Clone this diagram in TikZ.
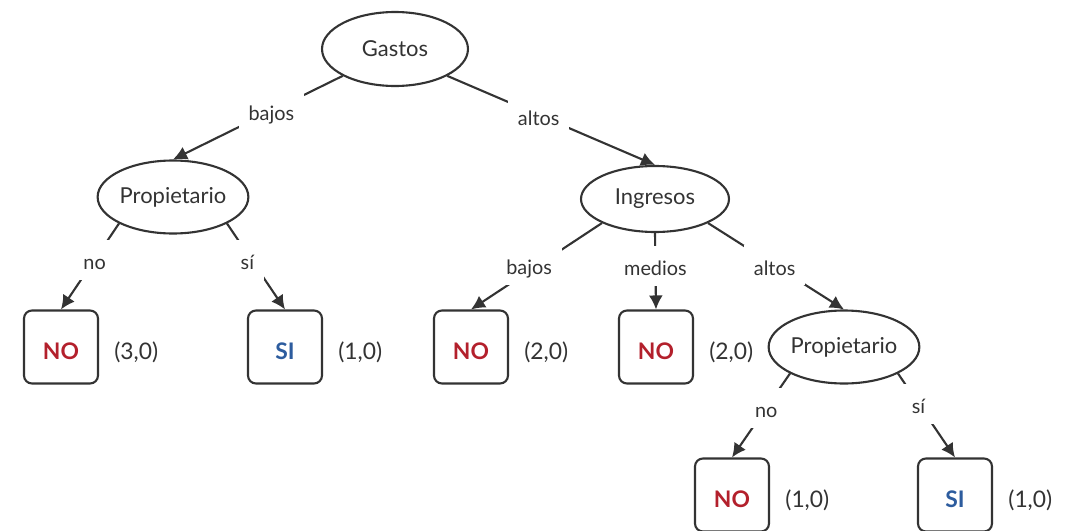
\documentclass[tikz,border=0pt]{standalone}
\usepackage{fontspec}
\setmainfont{Lato}
\usepackage{xcolor}
\usetikzlibrary{arrows.meta,positioning,shapes.geometric}
\definecolor{ink}{HTML}{333333}
\definecolor{nored}{HTML}{B3202C}
\definecolor{siblue}{HTML}{2D5C9E}

\begin{document}
\begin{tikzpicture}[x=0.02cm, y=-0.02cm,
  test/.style={ellipse, draw=ink, line width=1.2pt, inner sep=0pt,
    minimum width=3.0cm, minimum height=1.46cm,
    font=\fontsize{12.5}{15}\selectfont, text=ink},
  leaf/.style={draw=ink, line width=1.2pt, rounded corners=4.5pt,
    minimum width=1.48cm, minimum height=1.46cm,
    text height=0.5cm, text depth=0pt,
    font=\fontsize{13}{15}\selectfont\bfseries},
  branch/.style={line width=1.2pt, draw=ink, -{Latex[length=0.28cm, width=0.28cm]}},
  choice/.style={fill=white, inner xsep=0.2cm, inner ysep=0.05cm,
    text height=0.55cm, text depth=0.15cm,
    font=\fontsize{11.3}{13}\selectfont, text=ink},
  count/.style={inner sep=0pt, yshift=-0.1cm,
    font=\fontsize{13}{15}\selectfont, text=ink}
]
\useasboundingbox (0,0) rectangle (1076,531);
\node[test, minimum width=2.92cm, minimum height=1.48cm] (gastos) at (395,49) {Gastos};
\node[test] (prop1) at (173,197) {Propietario};
\node[test, minimum width=2.96cm, minimum height=1.32cm] (ingresos) at (655,199) {Ingresos};
\node[leaf, text=nored] (no1) at (61,347) {NO};
\node[leaf, text=siblue] (si1) at (285,347) {SI};
\node[leaf, text=nored] (no2) at (471,347) {NO};
\node[leaf, text=nored] (no3) at (656,347) {NO};
\node[test] (prop2) at (844,347) {Propietario};
\node[leaf, text=nored] (no4) at (732,495) {NO};
\node[leaf, text=siblue] (si2) at (955,495) {SI};
\draw[branch] (gastos.south west) -- node[choice, pos=.42] (gbajos) {bajos} (prop1.north);
\draw[branch] (gastos.south east) -- node[choice, pos=.44] (galtos) {altos} (ingresos.north);
\draw[branch] (prop1.south west) -- node[choice, pos=.42] (pno) {no} (no1.north);
\draw[branch] (prop1.south east) -- node[choice, pos=.42, xshift=-0.08cm] (psi) {sí} (si1.north);
\draw[branch] (ingresos.south west) -- node[choice, pos=.48, xshift=-0.2cm] (ibajos) {bajos} (no2.north);
\draw[branch] (ingresos.south) -- node[choice, pos=.43] (imedios) {medios} (no3.north);
\draw[branch] (ingresos.south east) -- node[choice, pos=.49] (ialtos) {altos} (prop2.north);
\draw[branch] (prop2.south west) -- node[choice, pos=.41] (qno) {no} (no4.north);
\draw[branch] (prop2.south east) -- node[choice, pos=.36] (qsi) {sí} (si2.north);
\node[count, right=0.3cm of no1] (c1) {(3,0)};
\node[count, right=0.3cm of si1] (c2) {(1,0)};
\node[count, right=0.3cm of no2] (c3) {(2,0)};
\node[count, right=0.3cm of no3] (c4) {(2,0)};
\node[count, right=0.3cm of no4] (c5) {(1,0)};
\node[count, right=0.3cm of si2] (c6) {(1,0)};
\end{tikzpicture}
\end{document}
